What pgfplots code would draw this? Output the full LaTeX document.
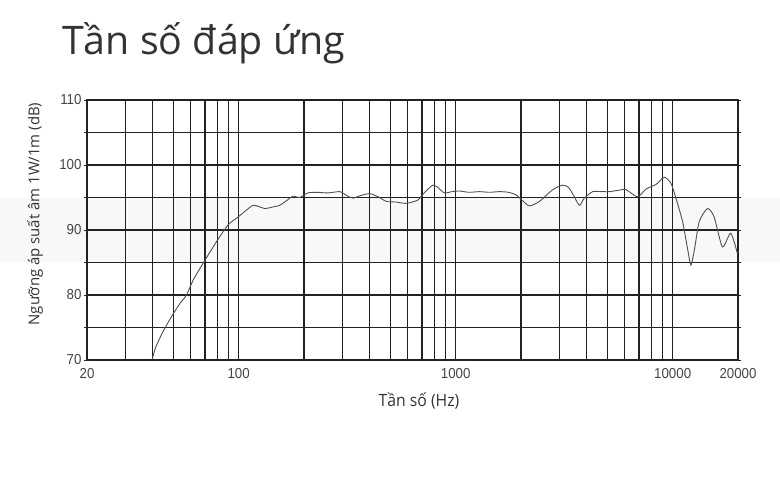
\documentclass[border=0pt]{standalone}
\usepackage{pgfplots}
\pgfplotsset{compat=1.18}
\usepackage{fontspec}
\setmainfont{Open Sans}
\newfontfamily\arialf{Liberation Sans}
\definecolor{txt}{HTML}{333333}
\definecolor{tick}{HTML}{444444}
\definecolor{curve}{HTML}{505050}
\definecolor{band}{HTML}{F8F8F8}
\definecolor{gridc}{HTML}{222222}
\newcommand{\tl}[1]{\scalebox{0.92}[1]{#1}}
\begin{document}
\begin{tikzpicture}
\useasboundingbox (0,0) rectangle (780bp,480bp);
\fill[band] (0,218bp) rectangle (780bp,282bp);
\begin{axis}[
  at={(87bp,120bp)}, anchor=south west,
  scale only axis, width=651bp, height=260bp,
  xmode=log, xmin=20, xmax=20000, ymin=70, ymax=110,
  xtick={20,30,40,50,60,70,80,90,100,200,300,400,500,600,700,800,900,1000,2000,3000,4000,5000,6000,7000,8000,9000,10000,20000},
  xticklabels={\tl{20},,,,,,,,\tl{100},,,,,,,,,\tl{1000},,,,,,,,,\tl{10000},\tl{20000}},
  ytick={70,75,80,85,90,95,100,105,110},
  yticklabels={\tl{70},,\tl{80},,\tl{90},,\tl{100},,\tl{110}},
  ticklabel style={font=\arialf\fontsize{14.5}{16}\selectfont, text=tick},
  xtick style={draw=none},
  ytick style={gridc, line width=0.8bp},
  tick align=outside, major tick length=3bp,
  xticklabel style={yshift=-2bp},
  yticklabel style={xshift=1bp},
  grid=major,
  major grid style={gridc, line width=1.3bp},
  axis line style={gridc, line width=1.3bp},
  clip=true,
]
\addplot[curve, line width=0.9bp, smooth, tension=0.4] coordinates {
(40,70.2) (41.5,72.0) (45,74.5) (49.1,76.7) (53.6,78.7) (57.5,80.0) (61.7,82.3) (68.6,84.9) (79,88.2) (89.4,90.8) (99.4,92.0) (108,93.0) (116.5,93.8) (124,93.6) (131.9,93.3) (142,93.5) (154.5,93.8) (166,94.5) (178,95.2) (191,95.0) (208,95.7) (230,95.8) (258,95.7) (292,95.9) (315,95.3) (336,94.9) (365,95.3) (401,95.6) (440,95.1) (479,94.4) (530,94.3) (592,94.1) (669,94.6) (720,95.8) (785,96.9) (830,96.5) (887,95.7) (960,95.9) (1041,96.0) (1150,95.8) (1286,95.9) (1430,95.8) (1591,95.9) (1750,95.8) (1898,95.4) (2050,94.4) (2187,93.7) (2433,94.4) (2800,96.2) (3113,96.9) (3300,96.6) (3459,95.6) (3715,93.8) (3917,94.9) (4278,95.9) (4700,95.9) (5103,95.9) (5600,96.1) (6095,96.2) (6886,95.1) (7532,96.3) (8374,97.0) (9141,98.1) (9813,97.2) (10350,94.9) (11107,91.3) (11700,87.2) (12130,84.6) (12600,87.0) (13250,91.3) (14470,93.3) (15530,92.0) (16950,87.4) (18520,89.5) (19870,86.4)
};
\end{axis}
\node[anchor=base west, text=txt, inner sep=0] at (62bp,425bp) {\fontsize{39.5}{44}\selectfont Tần số đáp ứng};
\node[anchor=base, text=txt, inner sep=0] at (419bp,73.5bp) {\scalebox{0.93}[1]{\fontsize{17}{19}\selectfont Tần số (Hz)}};
\node[rotate=90, text=txt, inner sep=0] at (35bp,266bp) {\fontsize{15}{17}\selectfont Ngưỡng áp suất âm 1W/1m (dB)};
\end{tikzpicture}
\end{document}
